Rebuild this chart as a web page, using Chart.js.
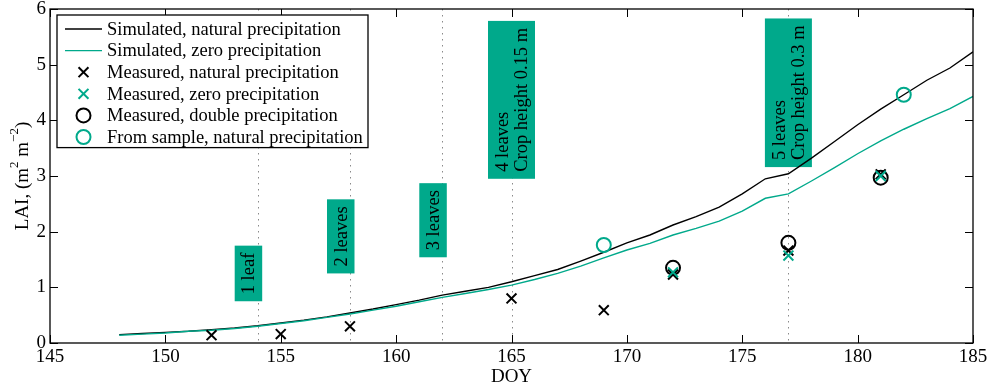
<!DOCTYPE html>
<html>
<head>
<meta charset="utf-8">
<script src="https://cdn.jsdelivr.net/npm/chart.js@4.4.1/dist/chart.umd.min.js"></script>
<style>
  html, body { margin: 0; padding: 0; background: #fff; }
  #wrap { width: 992px; height: 387px; }
</style>
</head>
<body>
<div id="wrap"><canvas id="laiChart" width="992" height="387"></canvas></div>
<script>
// --- Data ---
const simDays = [148, 149, 150, 151, 152, 153, 154, 155, 156, 157, 158, 159, 160, 161, 162, 163, 164, 165, 166,
                 167, 168, 169, 170, 171, 172, 173, 174, 175, 176, 177, 178, 179, 180, 181, 182, 183, 184, 185];
const simNatural = [0.15, 0.17, 0.19, 0.21, 0.24, 0.27, 0.31, 0.36, 0.41, 0.47, 0.54, 0.61, 0.69, 0.77, 0.86, 0.93, 1.00, 1.10, 1.21,
                    1.32, 1.47, 1.63, 1.80, 1.94, 2.12, 2.27, 2.44, 2.68, 2.95, 3.04, 3.32, 3.62, 3.92, 4.20, 4.46, 4.72, 4.94, 5.23];
const simZero = [0.14, 0.16, 0.18, 0.21, 0.23, 0.26, 0.30, 0.35, 0.40, 0.46, 0.52, 0.59, 0.66, 0.74, 0.82, 0.89, 0.96, 1.04, 1.14,
                 1.25, 1.38, 1.53, 1.67, 1.79, 1.94, 2.06, 2.19, 2.37, 2.60, 2.68, 2.91, 3.15, 3.40, 3.63, 3.84, 4.03, 4.21, 4.43];

const measNaturalDays = [152, 155, 158, 165, 169, 172, 177, 181];
const measNatural = [0.14, 0.16, 0.30, 0.80, 0.59, 1.23, 1.66, 3.03];
const measZeroDays = [172, 177, 181];
const measZero = [1.27, 1.57, 3.00];
const measDoubleDays = [172, 177, 181];
const measDouble = [1.35, 1.80, 2.97];
const sampleDays = [169, 182];
const sampleNatural = [1.76, 4.46];

// growth stage markers (dotted lines) and their labels
const stageDays = [154, 158, 162, 165, 177];
const stageLabelDays = [153.6, 157.6, 161.6, 165, 177];
const stageLabelLai = [0.75, 1.25, 1.54, 2.95, 3.16];
const stageLabels = [['1 leaf'], ['2 leaves'], ['3 leaves'], ['4 leaves', 'Crop height 0.15 m'], ['5 leaves', 'Crop height 0.3 m']];

const xTicks = [145, 150, 155, 160, 165, 170, 175, 180, 185];
const yTicks = [0, 1, 2, 3, 4, 5, 6];

const GREEN = '#00a98b';
const FONT = '"Liberation Serif", "Times New Roman", serif';

const pts = (xs, ys) => xs.map((x, i) => ({ x: x, y: ys[i] }));

// --- plugin: dotted stage lines, label boxes, frame, inward ticks, legend, axis titles ---
const decor = {
    id: 'decor',
    beforeDatasetsDraw(chart) {
        const { ctx, chartArea: a, scales: { x } } = chart;
        ctx.save();
        ctx.strokeStyle = '#8a8a8a';
        ctx.lineWidth = 1;
        ctx.setLineDash([1.5, 4.5]);
        stageDays.forEach(d => {
            const px = Math.round(x.getPixelForValue(d)) + 0.5;
            ctx.beginPath();
            ctx.moveTo(px, a.top);
            ctx.lineTo(px, a.bottom);
            ctx.stroke();
        });
        ctx.restore();

        // label boxes
        ctx.save();
        ctx.font = '18.5px ' + FONT;
        const lineH = 19.5, padX = 4, padY = 7;
        stageLabels.forEach((lines, i) => {
            const cx = x.getPixelForValue(stageLabelDays[i]);
            const bottom = chart.scales.y.getPixelForValue(stageLabelLai[i]);
            const tw = Math.max(...lines.map(l => ctx.measureText(l).width));
            const h = tw + 2 * padY;
            const w = lines.length * lineH + 2 * padX;
            ctx.fillStyle = GREEN;
            ctx.fillRect(cx - w / 2, bottom - h, w, h);
            ctx.save();
            ctx.translate(cx, bottom - padY);
            ctx.rotate(-Math.PI / 2);
            ctx.fillStyle = '#000';
            ctx.textAlign = 'left';
            ctx.textBaseline = 'middle';
            lines.forEach((l, j) => {
                ctx.fillText(l, 0, -w / 2 + padX + lineH * (j + 0.5) + 1);
            });
            ctx.restore();
        });
        ctx.restore();
    },
    afterDraw(chart) {
        const { ctx, chartArea: a, scales: { x, y } } = chart;
        ctx.save();
        // frame
        ctx.strokeStyle = '#000';
        ctx.lineWidth = 1.3;
        ctx.strokeRect(a.left, a.top, a.right - a.left, a.bottom - a.top);
        // inward ticks on all four sides
        ctx.lineWidth = 1;
        const tl = 8;
        ctx.beginPath();
        xTicks.forEach(v => {
            const px = Math.round(x.getPixelForValue(v)) + 0.5;
            ctx.moveTo(px, a.bottom); ctx.lineTo(px, a.bottom - tl);
            ctx.moveTo(px, a.top); ctx.lineTo(px, a.top + tl);
        });
        yTicks.forEach(v => {
            const py = Math.round(y.getPixelForValue(v)) + 0.5;
            ctx.moveTo(a.left, py); ctx.lineTo(a.left + tl, py);
            ctx.moveTo(a.right, py); ctx.lineTo(a.right - tl, py);
        });
        ctx.stroke();

        // legend
        const lx = a.left + 7, ly = a.top + 6, lw = 311, rowH = 21.6;
        const ds = chart.data.datasets;
        const lh = ds.length * rowH + 3;
        ctx.fillStyle = '#fff';
        ctx.fillRect(lx, ly, lw, lh);
        ctx.strokeStyle = '#000';
        ctx.lineWidth = 1.3;
        ctx.strokeRect(lx, ly, lw, lh);
        ctx.font = '18.5px ' + FONT;
        ctx.textBaseline = 'middle';
        ctx.textAlign = 'left';
        ds.forEach((d, i) => {
            const cy = ly + 14 + i * rowH;
            const sx0 = lx + 8, sx1 = lx + 45;
            if (d.showLine) {
                ctx.strokeStyle = d.borderColor;
                ctx.lineWidth = d.borderWidth;
                ctx.beginPath();
                ctx.moveTo(sx0, cy); ctx.lineTo(sx1, cy);
                ctx.stroke();
            } else {
                ctx.fillStyle = 'rgba(0,0,0,0)';
                ctx.strokeStyle = d.borderColor;
                ctx.lineWidth = d.pointBorderWidth;
                Chart.helpers.drawPoint(ctx, {
                    pointStyle: d.pointStyle, radius: d.pointRadius, borderWidth: d.pointBorderWidth, rotation: 0
                }, (sx0 + sx1) / 2, cy);
            }
            ctx.fillStyle = '#000';
            ctx.fillText(d.label, lx + 50, cy + 1);
        });

        // axis titles
        ctx.fillStyle = '#000';
        ctx.font = '19px ' + FONT;
        ctx.textAlign = 'center';
        ctx.textBaseline = 'middle';
        ctx.fillText('DOY', (a.left + a.right) / 2, 377);

        // y title with superscripts
        const parts = [['LAI, (m', 0], ['2', 1], [' m', 0], ['\u22122', 1], [')', 0]];
        const big = '19px ' + FONT, small = '13px ' + FONT;
        let total = 0;
        parts.forEach(p => { ctx.font = p[1] ? small : big; total += ctx.measureText(p[0]).width; });
        ctx.translate(22, (a.top + a.bottom) / 2);
        ctx.rotate(-Math.PI / 2);
        ctx.textAlign = 'left';
        let pos = -total / 2;
        parts.forEach(p => {
            ctx.font = p[1] ? small : big;
            ctx.fillText(p[0], pos, p[1] ? -7 : 1);
            pos += ctx.measureText(p[0]).width;
        });
        ctx.restore();
    }
};

new Chart(document.getElementById('laiChart'), {
    type: 'scatter',
    data: {
        datasets: [
            { label: 'Simulated, natural precipitation', data: pts(simDays, simNatural), showLine: true,
              borderColor: '#000', borderWidth: 1.4, pointRadius: 0, tension: 0, order: 6 },
            { label: 'Simulated, zero precipitation', data: pts(simDays, simZero), showLine: true,
              borderColor: GREEN, borderWidth: 1.4, pointRadius: 0, tension: 0, order: 5 },
            { label: 'Measured, natural precipitation', data: pts(measNaturalDays, measNatural), showLine: false,
              pointStyle: 'crossRot', pointRadius: 7, pointBorderWidth: 2, borderColor: '#000', order: 3 },
            { label: 'Measured, zero precipitation', data: pts(measZeroDays, measZero), showLine: false,
              pointStyle: 'crossRot', pointRadius: 7, pointBorderWidth: 2, borderColor: GREEN, order: 2 },
            { label: 'Measured, double precipitation', data: pts(measDoubleDays, measDouble), showLine: false,
              pointStyle: 'circle', pointRadius: 7, pointBorderWidth: 2, borderColor: '#000', backgroundColor: 'rgba(0,0,0,0)', order: 4 },
            { label: 'From sample, natural precipitation', data: pts(sampleDays, sampleNatural), showLine: false,
              pointStyle: 'circle', pointRadius: 7, pointBorderWidth: 2, borderColor: GREEN, backgroundColor: 'rgba(0,0,0,0)', order: 1 }
        ]
    },
    options: {
        responsive: false,
        animation: false,
        events: [],
        layout: { padding: { top: 7, right: 19, left: 0, bottom: 0 } },
        plugins: { legend: { display: false }, tooltip: { enabled: false } },
        scales: {
            x: {
                type: 'linear', min: 145, max: 185,
                afterBuildTicks: s => { s.ticks = xTicks.map(v => ({ value: v })); },
                afterFit: s => { s.height = 44; s.paddingLeft = 0; s.paddingRight = 0; },
                grid: { display: false, drawTicks: false },
                border: { display: false },
                ticks: { color: '#000', padding: 3, maxRotation: 0, font: { family: FONT, size: 19 } }
            },
            y: {
                type: 'linear', min: 0, max: 6,
                afterBuildTicks: s => { s.ticks = yTicks.map(v => ({ value: v })); },
                afterFit: s => { s.width = 50; s.paddingTop = 0; s.paddingBottom = 0; },
                grid: { display: false, drawTicks: false },
                border: { display: false },
                ticks: { color: '#000', padding: 4, font: { family: FONT, size: 19 } }
            }
        }
    },
    plugins: [decor]
});
</script>
</body>
</html>
